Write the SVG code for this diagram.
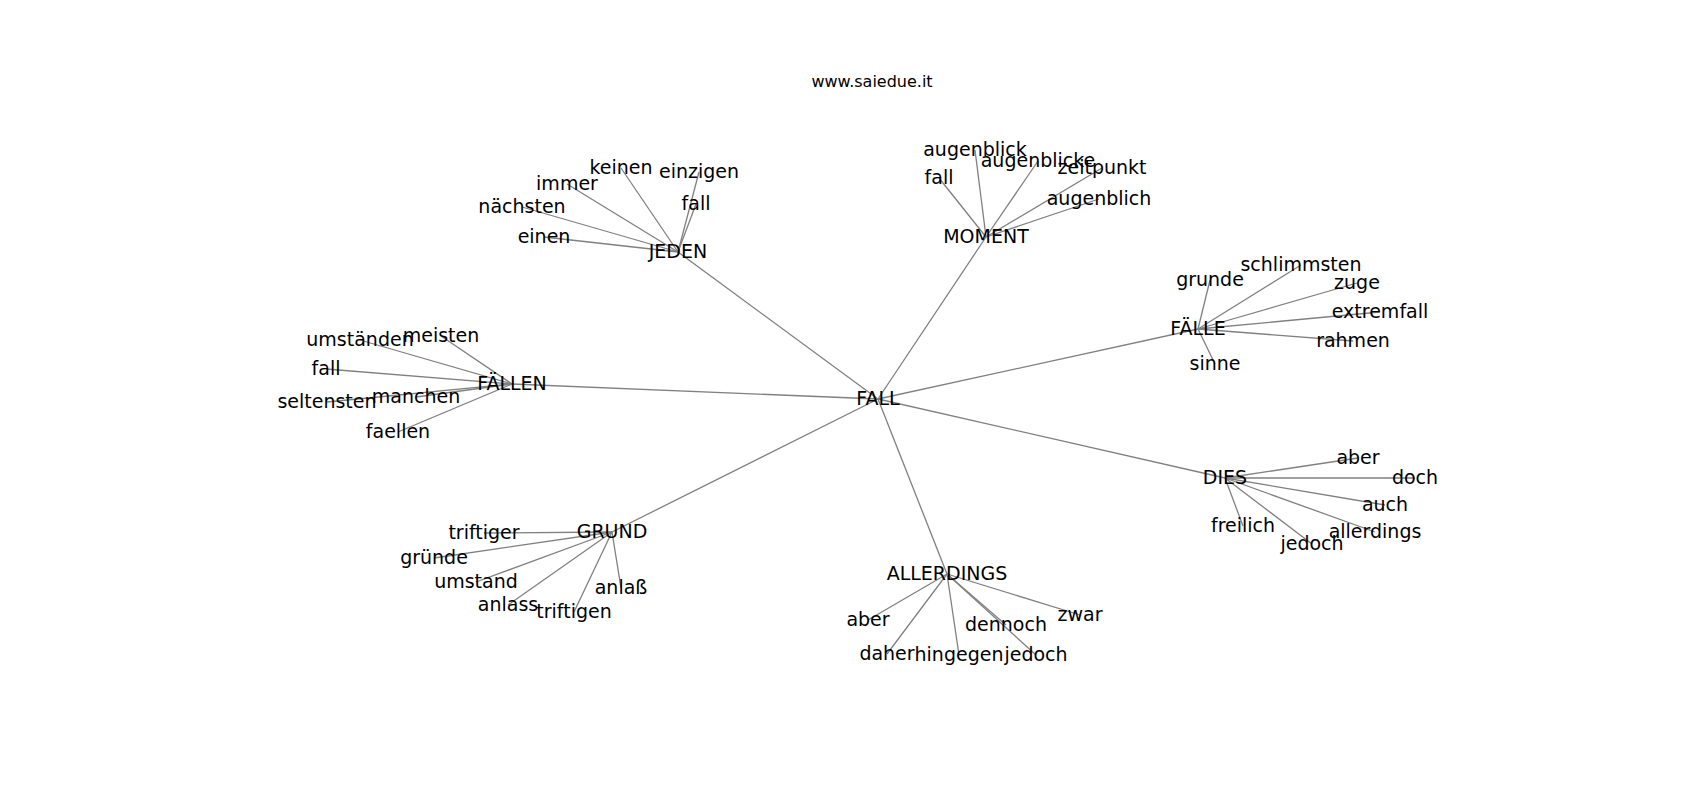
<svg xmlns="http://www.w3.org/2000/svg" width="1700" height="800" viewBox="0 0 1700 800">
<style>
.e{stroke:#808080;stroke-width:1.3;fill:none}
.n text{font-family:"DejaVu Sans",sans-serif;font-size:19px;fill:#000;text-anchor:middle}
.t{font-family:"DejaVu Sans",sans-serif;font-size:16px;fill:#000;text-anchor:middle}
</style>
<rect width="1700" height="800" fill="#fff"/>
<text class="t" x="872" y="87">www.saiedue.it</text>
<g id="edges" class="e">
<line x1="878" y1="399" x2="678" y2="252"/>
<line x1="878" y1="399" x2="986" y2="237"/>
<line x1="878" y1="399" x2="1198" y2="329"/>
<line x1="878" y1="399" x2="1225" y2="478"/>
<line x1="878" y1="399" x2="947" y2="574"/>
<line x1="878" y1="399" x2="612" y2="532"/>
<line x1="878" y1="399" x2="512" y2="384"/>
<line x1="678" y1="252" x2="621" y2="168"/>
<line x1="678" y1="252" x2="699" y2="172"/>
<line x1="678" y1="252" x2="567" y2="184"/>
<line x1="678" y1="252" x2="696" y2="204"/>
<line x1="678" y1="252" x2="522" y2="207"/>
<line x1="678" y1="252" x2="544" y2="237"/>
<line x1="986" y1="237" x2="975" y2="150"/>
<line x1="986" y1="237" x2="1038" y2="161"/>
<line x1="986" y1="237" x2="1102" y2="168"/>
<line x1="986" y1="237" x2="939" y2="178"/>
<line x1="986" y1="237" x2="1099" y2="199"/>
<line x1="1198" y1="329" x2="1301" y2="265"/>
<line x1="1198" y1="329" x2="1210" y2="280"/>
<line x1="1198" y1="329" x2="1357" y2="283"/>
<line x1="1198" y1="329" x2="1380" y2="312"/>
<line x1="1198" y1="329" x2="1353" y2="341"/>
<line x1="1198" y1="329" x2="1215" y2="364"/>
<line x1="512" y1="384" x2="360" y2="340"/>
<line x1="512" y1="384" x2="441" y2="336"/>
<line x1="512" y1="384" x2="326" y2="369"/>
<line x1="512" y1="384" x2="416" y2="397"/>
<line x1="512" y1="384" x2="327" y2="402"/>
<line x1="512" y1="384" x2="398" y2="432"/>
<line x1="612" y1="532" x2="484" y2="533"/>
<line x1="612" y1="532" x2="434" y2="558"/>
<line x1="612" y1="532" x2="476" y2="582"/>
<line x1="612" y1="532" x2="621" y2="588"/>
<line x1="612" y1="532" x2="508" y2="605"/>
<line x1="612" y1="532" x2="574" y2="612"/>
<line x1="947" y1="574" x2="868" y2="620"/>
<line x1="947" y1="574" x2="1080" y2="615"/>
<line x1="947" y1="574" x2="1006" y2="625"/>
<line x1="947" y1="574" x2="887" y2="654"/>
<line x1="947" y1="574" x2="959" y2="655"/>
<line x1="947" y1="574" x2="1036" y2="655"/>
<line x1="1225" y1="478" x2="1358" y2="458"/>
<line x1="1225" y1="478" x2="1415" y2="478"/>
<line x1="1225" y1="478" x2="1385" y2="505"/>
<line x1="1225" y1="478" x2="1243" y2="526"/>
<line x1="1225" y1="478" x2="1375" y2="532"/>
<line x1="1225" y1="478" x2="1312" y2="544"/>
</g>
<g class="n">
<g id="FALL"><text x="878" y="405">FALL</text></g>
<g id="JEDEN"><text x="678" y="258">JEDEN</text></g>
<g id="jeden-keinen"><text x="621" y="174">keinen</text></g>
<g id="jeden-einzigen"><text x="699" y="178">einzigen</text></g>
<g id="jeden-immer"><text x="567" y="190">immer</text></g>
<g id="jeden-fall"><text x="696" y="210">fall</text></g>
<g id="jeden-naechsten"><text x="522" y="213">nächsten</text></g>
<g id="jeden-einen"><text x="544" y="243">einen</text></g>
<g id="MOMENT"><text x="986" y="243">MOMENT</text></g>
<g id="moment-augenblick"><text x="975" y="156">augenblick</text></g>
<g id="moment-augenblicke"><text x="1038" y="167">augenblicke</text></g>
<g id="moment-zeitpunkt"><text x="1102" y="174">zeitpunkt</text></g>
<g id="moment-fall"><text x="939" y="184">fall</text></g>
<g id="moment-augenblich"><text x="1099" y="205">augenblich</text></g>
<g id="FAELLE"><text x="1198" y="335">FÄLLE</text></g>
<g id="faelle-schlimmsten"><text x="1301" y="271">schlimmsten</text></g>
<g id="faelle-grunde"><text x="1210" y="286">grunde</text></g>
<g id="faelle-zuge"><text x="1357" y="289">zuge</text></g>
<g id="faelle-extremfall"><text x="1380" y="318">extremfall</text></g>
<g id="faelle-rahmen"><text x="1353" y="347">rahmen</text></g>
<g id="faelle-sinne"><text x="1215" y="370">sinne</text></g>
<g id="FAELLEN"><text x="512" y="390">FÄLLEN</text></g>
<g id="faellen-umstaenden"><text x="360" y="346">umständen</text></g>
<g id="faellen-meisten"><text x="441" y="342">meisten</text></g>
<g id="faellen-fall"><text x="326" y="375">fall</text></g>
<g id="faellen-manchen"><text x="416" y="403">manchen</text></g>
<g id="faellen-seltensten"><text x="327" y="408">seltensten</text></g>
<g id="faellen-faellen"><text x="398" y="438">faellen</text></g>
<g id="GRUND"><text x="612" y="538">GRUND</text></g>
<g id="grund-triftiger"><text x="484" y="539">triftiger</text></g>
<g id="grund-gruende"><text x="434" y="564">gründe</text></g>
<g id="grund-umstand"><text x="476" y="588">umstand</text></g>
<g id="grund-anlass2"><text x="621" y="594">anlaß</text></g>
<g id="grund-anlass"><text x="508" y="611">anlass</text></g>
<g id="grund-triftigen"><text x="574" y="618">triftigen</text></g>
<g id="ALLERDINGS"><text x="947" y="580">ALLERDINGS</text></g>
<g id="allerdings-aber"><text x="868" y="626">aber</text></g>
<g id="allerdings-zwar"><text x="1080" y="621">zwar</text></g>
<g id="allerdings-dennoch"><text x="1006" y="631">dennoch</text></g>
<g id="allerdings-daher"><text x="887" y="660">daher</text></g>
<g id="allerdings-hingegen"><text x="959" y="661">hingegen</text></g>
<g id="allerdings-jedoch"><text x="1036" y="661">jedoch</text></g>
<g id="DIES"><text x="1225" y="484">DIES</text></g>
<g id="dies-aber"><text x="1358" y="464">aber</text></g>
<g id="dies-doch"><text x="1415" y="484">doch</text></g>
<g id="dies-auch"><text x="1385" y="511">auch</text></g>
<g id="dies-freilich"><text x="1243" y="532">freilich</text></g>
<g id="dies-allerdings"><text x="1375" y="538">allerdings</text></g>
<g id="dies-jedoch"><text x="1312" y="550">jedoch</text></g>
</g>
</svg>
